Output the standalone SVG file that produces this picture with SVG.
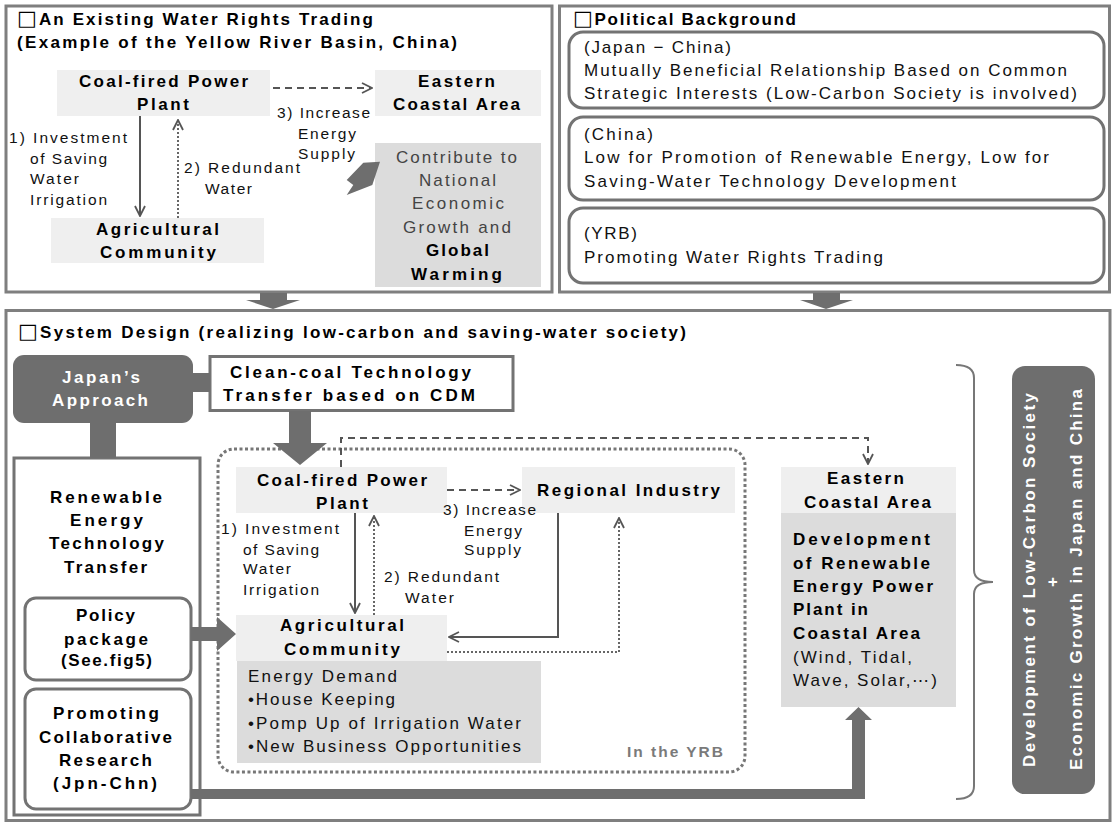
<svg xmlns="http://www.w3.org/2000/svg" width="1114" height="826" viewBox="0 0 1114 826">
<defs>
<style>
.panel{fill:#fff;stroke:#7f7f7f;stroke-width:3}
.lt{fill:#efefef}
.md{fill:#dcdcdc}
.dk{fill:#6e6e6e}
.ob{fill:#fff;stroke:#737373;stroke-width:3}
.rb{fill:#fff;stroke:#737373;stroke-width:3}
.b{font-family:"Liberation Sans",Arial,sans-serif;font-weight:bold;font-size:17px;fill:#000}
.r{font-family:"Liberation Sans",Arial,sans-serif;font-size:15.5px;fill:#111}
.r16{font-family:"Liberation Sans",Arial,sans-serif;font-size:17px;fill:#111}
.g16{font-family:"Liberation Sans",Arial,sans-serif;font-size:17px;fill:#444}
.w{font-family:"Liberation Sans",Arial,sans-serif;font-weight:bold;font-size:17px;fill:#fff}
.gy{font-family:"Liberation Sans",Arial,sans-serif;font-weight:bold;font-size:15.5px;fill:#7a7a7a}
.sq{font-family:"DejaVu Sans",sans-serif;font-weight:bold;font-size:21px}
.ln{fill:none;stroke:#555;stroke-width:2}
.dash{fill:none;stroke:#555;stroke-width:2;stroke-dasharray:7 5}
.dot{fill:none;stroke:#666;stroke-width:2;stroke-dasharray:2 2}
.thick{fill:#6e6e6e}
</style>
<marker id="v" viewBox="0 0 12 12" refX="11" refY="6" markerWidth="12" markerHeight="12" markerUnits="userSpaceOnUse" orient="auto">
<path d="M1,1 L11,6 L1,11" fill="none" stroke="#555" stroke-width="1.8"/>
</marker>
</defs>
<rect width="1114" height="826" fill="#fff"/>

<!-- Top-left panel -->
<g id="panel-existing">
<rect class="panel" x="6" y="6" width="546" height="286"/>
<text class="b" x="17" y="25" textLength="356" lengthAdjust="spacing"><tspan class="sq">□</tspan>An Existing Water Rights Trading</text>
<text class="b" x="17" y="48" textLength="440" lengthAdjust="spacing">(Example of the Yellow River Basin, China)</text>
</g>
<g id="tl-coal">
<rect class="lt" x="57" y="70" width="213" height="46"/>
<text class="b" x="79" y="87" textLength="169" lengthAdjust="spacing">Coal-fired Power</text>
<text class="b" x="137" y="110" textLength="52" lengthAdjust="spacing">Plant</text>
</g>
<g id="tl-eastern">
<rect class="lt" x="375" y="70" width="166" height="46"/>
<text class="b" x="418" y="87" textLength="77" lengthAdjust="spacing">Eastern</text>
<text class="b" x="393" y="110" textLength="127" lengthAdjust="spacing">Coastal Area</text>
</g>
<g id="tl-agri">
<rect class="lt" x="51" y="218" width="213" height="45"/>
<text class="b" x="96" y="235" textLength="123" lengthAdjust="spacing">Agricultural</text>
<text class="b" x="100" y="258" textLength="116" lengthAdjust="spacing">Community</text>
</g>
<g id="tl-contribute">
<rect class="md" x="375" y="143" width="166" height="144"/>
<text class="g16" x="396" y="163" textLength="121" lengthAdjust="spacing">Contribute to</text>
<text class="g16" x="419" y="186" textLength="77" lengthAdjust="spacing">National</text>
<text class="g16" x="412" y="209" textLength="92" lengthAdjust="spacing">Economic</text>
<text class="g16" x="403" y="233" textLength="108" lengthAdjust="spacing">Growth and</text>
<text class="b" x="426" y="256" textLength="63" lengthAdjust="spacing">Global</text>
<text class="b" x="411" y="280" textLength="91" lengthAdjust="spacing">Warming</text>
</g>
<g id="tl-labels">
<text class="r" x="277" y="118" textLength="93" lengthAdjust="spacing">3) Increase</text>
<text class="r" x="298" y="139" textLength="58" lengthAdjust="spacing">Energy</text>
<text class="r" x="298" y="159" textLength="57" lengthAdjust="spacing">Supply</text>
<text class="r" x="9" y="143" textLength="118" lengthAdjust="spacing">1) Investment</text>
<text class="r" x="30" y="164" textLength="77" lengthAdjust="spacing">of Saving</text>
<text class="r" x="30" y="184" textLength="49" lengthAdjust="spacing">Water</text>
<text class="r" x="30" y="205" textLength="77" lengthAdjust="spacing">Irrigation</text>
<text class="r" x="184" y="173" textLength="116" lengthAdjust="spacing">2) Redundant</text>
<text class="r" x="205" y="194" textLength="47" lengthAdjust="spacing">Water</text>
</g>

<!-- Top-right panel -->
<g id="panel-political">
<rect class="panel" x="559.5" y="6" width="550" height="286"/>
<text class="b" x="573" y="25" textLength="223" lengthAdjust="spacing"><tspan class="sq">□</tspan>Political Background</text>
</g>
<g id="pol-japan-china">
<rect class="rb" x="569" y="32" width="535" height="76" rx="14"/>
<text class="r16" x="584" y="53" textLength="147" lengthAdjust="spacing">(Japan − China)</text>
<text class="r16" x="584" y="76" textLength="483" lengthAdjust="spacing">Mutually Beneficial Relationship Based on Common</text>
<text class="r16" x="584" y="99" textLength="493" lengthAdjust="spacing">Strategic Interests (Low-Carbon Society is involved)</text>
</g>
<g id="pol-china">
<rect class="rb" x="569" y="117" width="535" height="83" rx="14"/>
<text class="r16" x="584" y="140" textLength="69" lengthAdjust="spacing">(China)</text>
<text class="r16" x="584" y="163" textLength="465" lengthAdjust="spacing">Low for Promotion of Renewable Energy, Low for</text>
<text class="r16" x="584" y="187" textLength="372" lengthAdjust="spacing">Saving-Water Technology Development</text>
</g>
<g id="pol-yrb">
<rect class="rb" x="569" y="208" width="535" height="75" rx="14"/>
<text class="r16" x="584" y="239" textLength="53" lengthAdjust="spacing">(YRB)</text>
<text class="r16" x="584" y="263" textLength="299" lengthAdjust="spacing">Promoting Water Rights Trading</text>
</g>

<!-- Bottom panel -->
<g id="panel-system">
<rect class="panel" x="6" y="310.5" width="1104" height="510"/>
<text class="b" x="18" y="338" textLength="668" lengthAdjust="spacing"><tspan class="sq">□</tspan>System Design (realizing low-carbon and saving-water society)</text>
</g>
<g id="japan-approach">
<rect class="dk" x="13" y="355" width="180" height="68" rx="11"/>
<text class="w" x="62" y="383" textLength="78" lengthAdjust="spacing">Japan’s</text>
<text class="w" x="52" y="406" textLength="96" lengthAdjust="spacing">Approach</text>
</g>
<g id="clean-coal">
<rect class="ob" x="210" y="356.5" width="303" height="54"/>
<text class="b" x="230" y="378" textLength="241" lengthAdjust="spacing">Clean-coal Technology</text>
<text class="b" x="223" y="401" textLength="252" lengthAdjust="spacing">Transfer based on CDM</text>
</g>
<g id="renewable">
<rect class="ob" x="14" y="458" width="186" height="357"/>
<text class="b" x="50" y="503" textLength="112" lengthAdjust="spacing">Renewable</text>
<text class="b" x="70" y="526" textLength="73" lengthAdjust="spacing">Energy</text>
<text class="b" x="49" y="549" textLength="115" lengthAdjust="spacing">Technology</text>
<text class="b" x="64" y="573" textLength="83" lengthAdjust="spacing">Transfer</text>
</g>
<g id="policy">
<rect class="rb" x="25" y="598" width="166" height="82" rx="11"/>
<text class="b" x="76" y="621" textLength="59" lengthAdjust="spacing">Policy</text>
<text class="b" x="64" y="645" textLength="84" lengthAdjust="spacing">package</text>
<text class="b" x="61" y="666" textLength="91" lengthAdjust="spacing">(See.fig5)</text>
</g>
<g id="promoting">
<rect class="rb" x="25" y="689" width="166" height="120" rx="11"/>
<text class="b" x="53" y="719" textLength="106" lengthAdjust="spacing">Promoting</text>
<text class="b" x="39" y="743" textLength="133" lengthAdjust="spacing">Collaborative</text>
<text class="b" x="59" y="766" textLength="93" lengthAdjust="spacing">Research</text>
<text class="b" x="53" y="789" textLength="104" lengthAdjust="spacing">(Jpn-Chn)</text>
</g>
<g id="yrb-area">
<rect x="218" y="449" width="527" height="323" rx="16" fill="none" stroke="#777" stroke-width="3" stroke-dasharray="3 2.5"/>
<text class="gy" x="627" y="757" textLength="96" lengthAdjust="spacing">In the YRB</text>
</g>
<g id="b-coal">
<rect class="lt" x="236" y="467" width="211" height="46"/>
<text class="b" x="257" y="486" textLength="170" lengthAdjust="spacing">Coal-fired Power</text>
<text class="b" x="316" y="509" textLength="52" lengthAdjust="spacing">Plant</text>
</g>
<g id="b-regional">
<rect class="lt" x="522" y="467" width="213" height="46"/>
<text class="b" x="537" y="496" textLength="183" lengthAdjust="spacing">Regional Industry</text>
</g>
<g id="b-agri">
<rect class="lt" x="236" y="615" width="211" height="46"/>
<text class="b" x="280" y="631" textLength="124" lengthAdjust="spacing">Agricultural</text>
<text class="b" x="284" y="655" textLength="116" lengthAdjust="spacing">Community</text>
<rect class="md" x="237" y="661" width="304" height="102"/>
<text class="r16" x="248" y="682" textLength="149" lengthAdjust="spacing">Energy Demand</text>
<text class="r16" x="248" y="705" textLength="147" lengthAdjust="spacing">•House Keeping</text>
<text class="r16" x="248" y="729" textLength="273" lengthAdjust="spacing">•Pomp Up of Irrigation Water</text>
<text class="r16" x="248" y="752" textLength="273" lengthAdjust="spacing">•New Business Opportunities</text>
</g>
<g id="b-eastern">
<rect class="lt" x="781" y="467" width="175" height="46"/>
<text class="b" x="827" y="484" textLength="77" lengthAdjust="spacing">Eastern</text>
<text class="b" x="804" y="508" textLength="127" lengthAdjust="spacing">Coastal Area</text>
<rect class="md" x="781" y="513" width="175" height="194"/>
<text class="b" x="793" y="545" textLength="137" lengthAdjust="spacing">Development</text>
<text class="b" x="793" y="569" textLength="137" lengthAdjust="spacing">of Renewable</text>
<text class="b" x="793" y="592" textLength="140" lengthAdjust="spacing">Energy Power</text>
<text class="b" x="793" y="615" textLength="75" lengthAdjust="spacing">Plant in</text>
<text class="b" x="793" y="639" textLength="127" lengthAdjust="spacing">Coastal Area</text>
<text class="r16" x="793" y="663" textLength="119" lengthAdjust="spacing">(Wind, Tidal,</text>
<text class="r16" x="793" y="686" textLength="144" lengthAdjust="spacing">Wave, Solar,⋯)</text>
</g>
<g id="b-labels">
<text class="r" x="221" y="534" textLength="118" lengthAdjust="spacing">1) Investment</text>
<text class="r" x="243" y="555" textLength="76" lengthAdjust="spacing">of Saving</text>
<text class="r" x="243" y="574" textLength="48" lengthAdjust="spacing">Water</text>
<text class="r" x="243" y="595" textLength="76" lengthAdjust="spacing">Irrigation</text>
<text class="r" x="384" y="582" textLength="115" lengthAdjust="spacing">2) Redundant</text>
<text class="r" x="405" y="603" textLength="49" lengthAdjust="spacing">Water</text>
<text class="r" x="443" y="515" textLength="93" lengthAdjust="spacing">3) Increase</text>
<text class="r" x="464" y="536" textLength="58" lengthAdjust="spacing">Energy</text>
<text class="r" x="464" y="555" textLength="57" lengthAdjust="spacing">Supply</text>
</g>
<g id="outcome">
<path d="M956,365 Q974,365 974,378 L974,570 Q974,582 993,582 Q974,582 974,594 L974,786 Q974,799 956,799" fill="none" stroke="#777" stroke-width="2"/>
<rect class="dk" x="1012" y="366" width="83" height="428" rx="13"/>
<text class="w" transform="translate(1029,580) rotate(-90)" x="-187" y="6" textLength="374" lengthAdjust="spacing">Development of Low-Carbon Society</text>
<text class="w" transform="translate(1052,582) rotate(-90)" x="-5" y="6">+</text>
<text class="w" transform="translate(1076,580) rotate(-90)" x="-190" y="6" textLength="381" lengthAdjust="spacing">Economic Growth in Japan and China</text>
</g>

<!-- Connectors -->
<g id="connectors">
<polygon class="thick" points="260,293 287,293 287,300 300,300 273,309 246,300 260,300"/>
<polygon class="thick" points="813,293 840,293 840,300 853,300 826,309 800,300 813,300"/>
<polygon class="thick" points="346.7,180 363.3,162.7 380,161.7 372.3,185 346.7,195 353.3,185"/>
<line class="ln" x1="140" y1="116" x2="140" y2="216" marker-end="url(#v)"/>
<line class="dot" x1="178" y1="218" x2="178" y2="120" marker-end="url(#v)"/>
<line class="dash" x1="273" y1="88" x2="372" y2="88" marker-end="url(#v)"/>

<rect class="thick" x="193" y="373" width="17" height="19"/>
<rect class="thick" x="90" y="423" width="26" height="35"/>
<polygon class="thick" points="289,411 311,411 311,443 327,443 300,465 273,443 289,443"/>
<polygon class="thick" points="191,627 217,627 217,617 236,634 217,651 217,641 191,641"/>
<polygon class="thick" points="191,789 852,789 852,720 845,720 858.5,707 872,720 865,720 865,799 191,799"/>

<line class="ln" x1="355" y1="513" x2="355" y2="613" marker-end="url(#v)"/>
<line class="dot" x1="374" y1="615" x2="374" y2="516" marker-end="url(#v)"/>
<line class="dash" x1="447" y1="490" x2="520" y2="490" marker-end="url(#v)"/>
<path class="dash" d="M341,467 V438 H868 V464" marker-end="url(#v)"/>
<path class="ln" d="M558,513 V637 H449" marker-end="url(#v)"/>
<path class="dot" d="M447,652 H619 V518" marker-end="url(#v)"/>
</g>
</svg>
